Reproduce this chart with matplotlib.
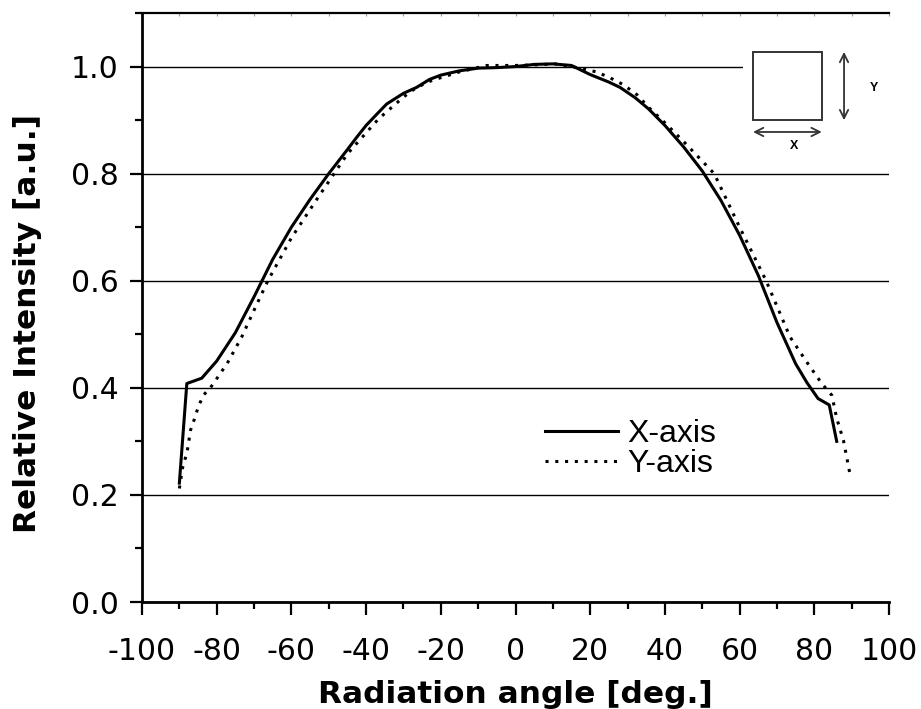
import numpy as np
import matplotlib
matplotlib.use("Agg")
import matplotlib.pyplot as plt
from matplotlib.patches import Rectangle, FancyArrowPatch
from matplotlib.ticker import MultipleLocator

# Radiation pattern along the two package axes
x_axis_angle = [-90, -88, -84, -80, -75, -70, -65, -60, -55, -50, -45, -42.5,
                -40, -37, -34.5, -30, -26.5, -23, -20, -15, -10, -5, 0, 5, 10,
                15, 20, 25, 28, 32, 35.6, 40, 45, 50, 55, 60, 65, 70, 75, 78,
                81, 84, 86]
x_axis_intensity = [0.222, 0.408, 0.418, 0.450, 0.503, 0.570, 0.640, 0.700,
                    0.752, 0.800, 0.845, 0.868, 0.890, 0.912, 0.930, 0.950,
                    0.961, 0.976, 0.984, 0.992, 0.997, 0.998, 1.000, 1.004,
                    1.005, 1.002, 0.985, 0.971, 0.961, 0.942, 0.921, 0.890,
                    0.850, 0.805, 0.750, 0.685, 0.610, 0.522, 0.445, 0.410,
                    0.380, 0.368, 0.300]

y_axis_angle = [-90, -89, -88, -87, -86, -85, -83.6, -81.7, -79, -77, -73.3, -70,
                -66.3, -60, -53.2, -45, -36.7, -30, -26.5, -22.4, -15, -7.7, 0,
                5, 10.6, 15, 21.7, 25.3, 28.9, 32.6, 35.6, 40, 45, 53.2, 60, 67.1,
                73.5, 78, 82, 84.7, 86, 87.8, 89.6]
y_axis_intensity = [0.212, 0.256, 0.277, 0.321, 0.341, 0.363, 0.386, 0.400, 0.427,
                    0.448, 0.495, 0.545, 0.600, 0.680, 0.752, 0.837, 0.902, 0.943,
                    0.961, 0.974, 0.990, 1.002, 1.002, 1.003, 1.005, 1.000, 0.990,
                    0.979, 0.966, 0.947, 0.924, 0.895, 0.860, 0.800, 0.700, 0.600,
                    0.495, 0.448, 0.408, 0.386, 0.343, 0.302, 0.237]

series_labels = ["X-axis", "Y-axis"]
x_ticks = list(range(-100, 101, 20))
y_ticks = [0.0, 0.2, 0.4, 0.6, 0.8, 1.0]

fig = plt.figure(figsize=(9.21, 7.09), dpi=100)
ax = fig.add_axes([142 / 921, 1 - 602 / 709, 747 / 921, 589 / 709])

ax.plot(x_axis_angle, x_axis_intensity, color="black", lw=2.2,
        label=series_labels[0], solid_joinstyle="round")
ax.plot(y_axis_angle, y_axis_intensity, color="black", lw=2.2,
        linestyle=(0, (1, 2.2)), label=series_labels[1])

ax.set_xlim(-100, 100)
ax.set_ylim(0, 1.1)
ax.set_xticks(x_ticks)
ax.set_xticklabels([f"{t}" for t in x_ticks])
ax.set_yticks(y_ticks)
ax.set_yticklabels([f"{t:.1f}" for t in y_ticks])
ax.xaxis.set_minor_locator(MultipleLocator(10))
ax.yaxis.set_minor_locator(MultipleLocator(0.1))

ax.yaxis.grid(True, which="major", color="black", lw=1.0)
ax.set_axisbelow(True)

for side in ["left", "bottom"]:
    ax.spines[side].set_linewidth(2.0)
ax.spines["top"].set_linewidth(1.6)
ax.spines["right"].set_visible(False)

ax.tick_params(axis="both", which="major", direction="out", length=9, width=1.6,
               labelsize=21.5, color="black")
ax.tick_params(axis="both", which="minor", direction="out", length=5, width=1.6)
ax.tick_params(axis="x", which="major", pad=16)
ax.tick_params(axis="y", which="major", pad=8)
for lab in ax.get_xticklabels() + ax.get_yticklabels():
    lab.set_fontfamily("DejaVu Sans")

# faint notches along the top frame
top = ax.secondary_xaxis("top")
top.set_xticks(np.arange(-100, 101, 10))
top.tick_params(direction="in", length=2.5, width=0.8, colors="#9a9a9a",
                labeltop=False)
top.spines["top"].set_visible(False)

ax.set_xlabel("Radiation angle [deg.]", fontsize=22.5, fontweight="bold",
              family="DejaVu Sans", labelpad=10)
ax.set_ylabel("Relative Intensity [a.u.]", fontsize=22.5, fontweight="bold",
              family="DejaVu Sans")
ax.yaxis.set_label_coords(-0.134, 0.472)

leg = ax.legend(loc="upper left", bbox_to_anchor=(0.5395, 0.311), frameon=False,
                prop={"family": "Liberation Sans", "size": 23},
                handlelength=2.29, handletextpad=0.28, labelspacing=0.0,
                borderpad=0, borderaxespad=0)

# package outline sketch with axis arrows
tr = ax.transAxes
ax.add_patch(Rectangle((0.8046, 0.76), 0.1954, 0.195, transform=tr,
                       facecolor="white", edgecolor="none", zorder=3))
ax.add_patch(Rectangle((0.818, 0.818), 0.092, 0.116, transform=tr,
                       facecolor="white", edgecolor="#333333", lw=1.4, zorder=4))
ax.add_patch(FancyArrowPatch((0.818, 0.798), (0.910, 0.798), transform=tr,
                             arrowstyle="<->,head_length=6,head_width=3",
                             color="#333333", lw=1.3, zorder=4,
                             shrinkA=0, shrinkB=0))
ax.add_patch(FancyArrowPatch((0.9398, 0.934), (0.9398, 0.818), transform=tr,
                             arrowstyle="<->,head_length=6,head_width=3",
                             color="#333333", lw=1.3, zorder=4,
                             shrinkA=0, shrinkB=0))
ax.text(0.873, 0.774, "X", transform=tr, fontsize=9, fontweight="bold",
        ha="center", va="center", family="Liberation Sans", zorder=5)
ax.text(0.980, 0.873, "Y", transform=tr, fontsize=9, fontweight="bold",
        ha="center", va="center", family="Liberation Sans", zorder=5)

fig.savefig("out.png", dpi=100)
